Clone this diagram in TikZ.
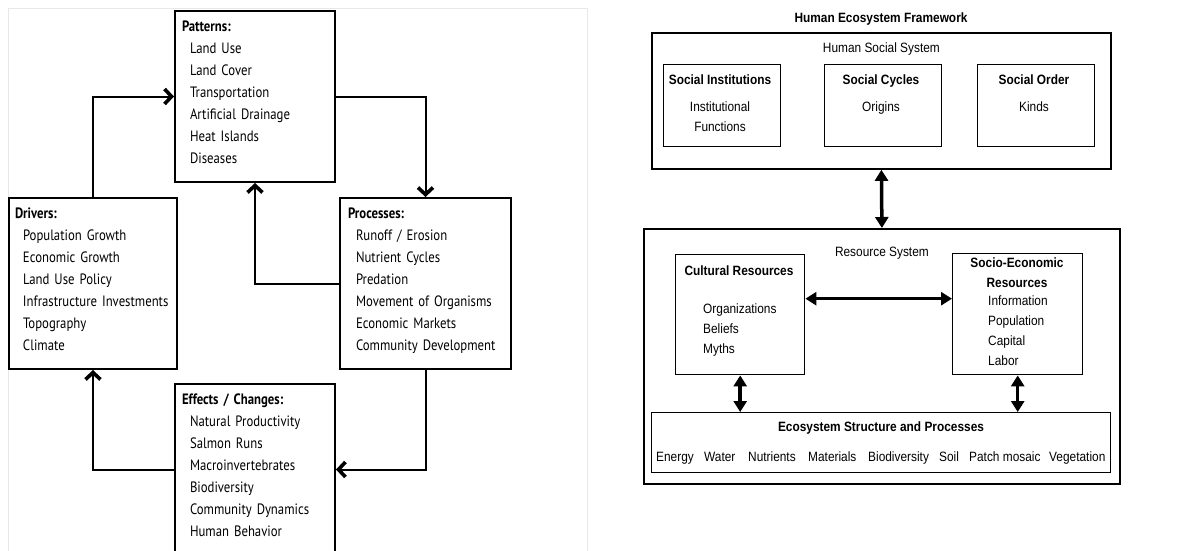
\documentclass[tikz,border=0pt]{standalone}
\usepackage{fontspec}
\usepackage{tikz}
\usetikzlibrary{arrows.meta,positioning}
\newfontfamily\leftfont[FakeStretch=0.85]{PT Sans}
\newfontfamily\rightfont[FakeStretch=0.88]{Liberation Sans}
\hyphenpenalty=10000
\tikzstyle{arrow} = [-{Straight Barb[length=7pt,width=15pt,line width=3.6pt]}, line width=2pt]
\tikzstyle{dblArrow} = [{Triangle[length=11pt,width=13pt]}-{Triangle[length=11pt,width=13pt]}, line width=3.5pt]
\tikzstyle{listBox} = [draw, line width=2pt, anchor=north west, align=left, inner xsep=7pt, inner ysep=0pt, minimum height=171pt, font=\leftfont\fontsize{15}{22}\selectfont]
\tikzstyle{sysBox} = [draw, line width=1.8pt, anchor=north west, inner sep=0pt]
\tikzstyle{subBox} = [draw, line width=1.4pt, anchor=north west, inner sep=0pt]
\tikzstyle{rText} = [font=\rightfont\fontsize{13.5}{20}\selectfont, inner sep=0pt]
\tikzstyle{rTitle} = [font=\rightfont\bfseries\fontsize{13.5}{20}\selectfont, inner sep=0pt]
\newcommand{\ind}{\hspace*{8pt}}
\newcommand{\listEnd}{\rule[-9pt]{0pt}{9pt}}

\begin{document}
\begin{tikzpicture}[x=1pt, y=-1pt]
					\useasboundingbox (0,0) rectangle (1196,550);
					\draw[gray!18, line width=1pt] (8,8) rectangle (587,560);
					\node (patterns) [listBox, text width=146pt] at (174,10) {
						\textbf{Patterns:}\\\ind Land Use\\\ind Land Cover\\\ind Transportation\\\ind Artificial Drainage\\\ind Heat Islands\\\ind Diseases\listEnd
					};
					\node (drivers) [listBox, text width=156pt, inner xsep=6pt] at (8,197) {
						\textbf{Drivers:}\\\ind Population Growth\\\ind Economic Growth\\\ind Land Use Policy\\\ind Infrastructure Investments\\\ind Topography\\\ind Climate\listEnd
					};
					\node (processes) [listBox, text width=155pt, inner xsep=8pt] at (339,197) {
						\textbf{Processes:}\\\ind Runoff / Erosion\\\ind Nutrient Cycles\\\ind Predation\\\ind Movement of Organisms\\\ind Economic Markets\\\ind Community Development\listEnd
					};
					\node (effects) [listBox, text width=146pt] at (174,383) {
						\textbf{Effects / Changes:}\\\ind Natural Productivity\\\ind Salmon Runs\\\ind Macroinvertebrates\\\ind Biodiversity\\\ind Community Dynamics\\\ind Human Behavior\listEnd
					};
					\draw[arrow] (drivers.north) |- (patterns.west);
					\draw[arrow] (patterns.east) -| (processes.north);
					\draw[arrow] (processes.west) -| (patterns.south);
					\draw[arrow] (processes.south) |- (effects.east);
					\draw[arrow] (effects.west) -| (drivers.south);

					\node (hefTitle) [rTitle, anchor=base] at (881,22) {Human Ecosystem Framework};
					\node (humanSocial) [sysBox, minimum width=459pt, minimum height=136pt] at (651,32) {};
					\node (hssLabel) [rText, below=11pt of humanSocial.north] {Human Social System};
					\node (socInst) [subBox, minimum width=117pt, minimum height=82pt] at (663,64) {};
					\node (socCyc) [subBox, minimum width=117pt, minimum height=82pt] at (824,64) {};
					\node (socOrd) [subBox, minimum width=117pt, minimum height=82pt] at (977,64) {};
					\node (socInstTxt) [rText, align=center, anchor=north] at (720,75) {\textbf{Social Institutions}\\[7pt]Institutional\\Functions};
					\node (socCycTxt) [rText, align=center, anchor=north] at (881,75) {\textbf{Social Cycles}\\[7pt]Origins};
					\node (socOrdTxt) [rText, align=center, anchor=north] at (1034,75) {\textbf{Social Order}\\[7pt]Kinds};

					\node (resource) [sysBox, minimum width=476pt, minimum height=255pt] at (643,228) {};
					\node (rsLabel) [rText, below=19pt of resource.north] {Resource System};
					\node (culRes) [subBox, minimum width=129pt, minimum height=120pt] at (675,254) {};
					\node (culResTxt) [rTitle, anchor=base] at (739,275) {Cultural Resources};
					\node (culResList) [rText, align=left, anchor=north west] at (703,304) {Organizations\\Beliefs\\Myths};
					\node (socEco) [subBox, minimum width=130pt, minimum height=121pt] at (952,253) {};
					\node (socEcoTxt) [rTitle, align=center, anchor=north] at (1017,258) {Socio-Economic\\Resources};
					\node (socEcoList) [rText, align=left, anchor=north west] at (988,296) {Information\\Population\\Capital\\Labor};
					\node (ecoProc) [subBox, minimum width=459pt, minimum height=60pt] at (651,412) {};
					\node (ecoTxt) [rTitle, anchor=base] at (881,431.5) {Ecosystem Structure and Processes};
					\foreach \w/\x [count=\i] in {Energy/656, Water/704, Nutrients/748, Materials/808, Biodiversity/868, Soil/939, Patch mosaic/969, Vegetation/1049}
						\node (eco\i) [rText, anchor=base west] at (\x,461) {\w};

					\draw[dblArrow] (humanSocial.south) -- (resource.north);
					\draw[dblArrow] ([yshift=16pt]culRes.east) -- ([yshift=15.5pt]socEco.west);
					\draw[dblArrow] (culRes.south) -- (culRes.south |- ecoProc.north);
					\draw[dblArrow] (socEco.south) -- (socEco.south |- ecoProc.north);
\end{tikzpicture}
\end{document}
